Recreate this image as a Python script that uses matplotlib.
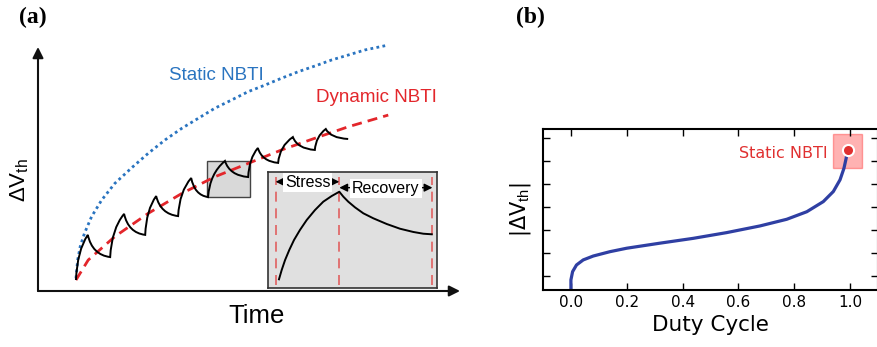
import matplotlib.pyplot as plt
from matplotlib.path import Path
from matplotlib.patches import PathPatch, Rectangle

plt.rcParams['font.family'] = 'DejaVu Sans'
plt.rcParams['mathtext.fontset'] = 'custom'
plt.rcParams['mathtext.rm'] = 'Liberation Sans'

# ---- (a) schematic, arbitrary units (0-100) ----
static_t = [9.0, 9.4, 10.0, 11.0, 12.7, 15.1, 18.2, 22.2, 26.1, 30.1, 34.1, 38.0,
            41.9, 45.9, 49.8, 53.8, 57.7, 61.7, 65.6, 69.6, 73.5, 77.5, 83.0]
static_v = [5.2, 12.7, 18.2, 23.6, 30.5, 37.3, 44.1, 50.5, 56.4, 61.9, 66.7, 70.8,
            74.9, 78.3, 81.7, 84.4, 87.2, 89.9, 92.2, 94.7, 96.7, 98.8, 100.8]

dyn_t = [9.0, 11.9, 18.2, 26.1, 34.1, 41.9, 49.8, 57.7, 65.6, 73.5, 83.0]
dyn_v = [4.5, 12.7, 22.3, 31.8, 40.0, 46.8, 52.3, 57.8, 62.6, 67.3, 72.1]

# peaks / troughs of stress-recovery cycles
saw_t = [9.0, 11.8, 17.1, 20.4, 25.4, 28.0, 33.2, 36.3, 40.3, 44.3, 49.8, 52.1, 56.9, 60.4, 65.6, 68.2, 73.5]
saw_v = [4.5, 23.0, 13.9, 31.6, 23.0, 38.9, 30.7, 46.3, 38.5, 53.3, 46.7, 58.6, 52.5, 63.1, 57.8, 66.4, 62.3]

# zoomed cycle (inset units 0-1)
cyc_t = [0.065, 0.081, 0.101, 0.126, 0.154, 0.189, 0.229, 0.278, 0.327, 0.377, 0.422,
         0.446, 0.475, 0.515, 0.564, 0.623, 0.702, 0.781, 0.860, 0.919, 0.969]
cyc_v = [0.075, 0.155, 0.241, 0.328, 0.414, 0.500, 0.586, 0.672, 0.744, 0.793, 0.830,
         0.787, 0.744, 0.695, 0.644, 0.601, 0.552, 0.511, 0.483, 0.468, 0.463]
phase_edges = [0.045, 0.422, 0.973]

# ---- (b) |dVth| vs duty cycle ----
duty = [0.000, 0.000, 0.006, 0.020, 0.044, 0.080, 0.140, 0.200, 0.319, 0.438,
        0.558, 0.677, 0.773, 0.845, 0.904, 0.940, 0.964, 0.978, 0.986, 0.990]
dvth = [0.39, 0.83, 1.19, 1.48, 1.70, 1.87, 2.06, 2.21, 2.43, 2.64,
        2.89, 3.18, 3.47, 3.80, 4.24, 4.68, 5.19, 5.69, 6.13, 6.49]
static_pt = (0.991, 6.49)

fig = plt.figure(figsize=(8.78, 3.47), dpi=100)

# ======== panel (a) ========
ax = fig.add_axes([38/878, 56/347, 422/878, 244/347])
ax.set_xlim(0, 100)
ax.set_ylim(0, 100)
ax.axis('off')

arr = dict(arrowstyle='-|>', color='#111111', lw=1.5, mutation_scale=16, shrinkA=0, shrinkB=0)
ax.annotate('', xy=(0, 1), xytext=(0, 0), xycoords='axes fraction', arrowprops=arr)
ax.annotate('', xy=(1, 0), xytext=(0, 0), xycoords='axes fraction', arrowprops=arr)

ax.add_patch(Rectangle((40.1, 38.4), 10.2, 15.0, facecolor='#d9d9d9',
                       edgecolor='#444444', lw=1, zorder=1))

ax.plot(static_t, static_v, color='#2a74c0', ls=(0, (1, 1.2)), lw=2, clip_on=False, zorder=3)
ax.plot(dyn_t, dyn_v, color='#e3262b', ls=(0, (3.6, 2.2)), lw=2, clip_on=False, zorder=4)

verts = [(saw_t[0], saw_v[0])]
codes = [Path.MOVETO]
for i in range(1, len(saw_t)):
    x0, y0 = saw_t[i-1], saw_v[i-1]
    x1, y1 = saw_t[i], saw_v[i]
    if y1 > y0:
        c = (x0 + 0.1*(x1-x0), y0 + 0.65*(y1-y0))
    else:
        c = (x0 + 0.2*(x1-x0), y1 + 0.1*(y0-y1))
    verts += [c, (x1, y1)]
    codes += [Path.CURVE3, Path.CURVE3]
ax.add_patch(PathPatch(Path(verts, codes), facecolor='none', edgecolor='k', lw=1.4, zorder=5))

ax.text(42.2, 88.5, 'Static NBTI', color='#2a74c0', fontsize=13.5,
        family='Liberation Sans', ha='center', va='center')
ax.text(80.1, 79.1, 'Dynamic NBTI', color='#e3262b', fontsize=13.5,
        family='Liberation Sans', ha='center', va='center')
ax.text(51.7, -10.2, 'Time', fontsize=18.5, family='Liberation Sans',
        ha='center', va='center', clip_on=False)
ax.text(-4.3, 45.5, r'ΔV$_{\mathrm{th}}$', fontsize=16, family='Liberation Sans',
        math_fontfamily='custom', rotation=90, ha='center', va='center', clip_on=False)

# inset: one stress / recovery cycle
axi = fig.add_axes([268/878, 59/347, 169/878, 116/347])
axi.set_facecolor('#e0e0e0')
axi.set_xlim(0, 1)
axi.set_ylim(0, 1)
axi.set_xticks([])
axi.set_yticks([])
for s in axi.spines.values():
    s.set_color('#333333')
    s.set_linewidth(1.2)
axi.vlines(phase_edges, 0.03, 0.96, colors='#e06060', linestyles=(0, (6, 4)), lw=1.2)
axi.plot(cyc_t, cyc_v, color='k', lw=1.4)
harr = dict(arrowstyle='<|-|>', color='k', lw=1, mutation_scale=12, shrinkA=0, shrinkB=0)
axi.annotate('', xy=(phase_edges[1], 0.916), xytext=(phase_edges[0], 0.916), arrowprops=harr)
axi.annotate('', xy=(phase_edges[2], 0.865), xytext=(phase_edges[1], 0.865), arrowprops=harr)
box = dict(facecolor='white', edgecolor='none', pad=1.5)
axi.text(0.234, 0.912, 'Stress', fontsize=11.5, family='Liberation Sans',
         ha='center', va='center', bbox=box)
axi.text(0.698, 0.861, 'Recovery', fontsize=11.5, family='Liberation Sans',
         ha='center', va='center', bbox=box)

fig.text(33/878, 1 - 17/347, '(a)', fontsize=17, family='Liberation Serif',
         weight='bold', ha='center', va='center')

# ======== panel (b) ========
bx = fig.add_axes([543/878, 57/347, 335/878, 160.7/347])
bx.plot(duty, dvth, color='#2f3fa3', lw=2.3, solid_capstyle='butt', solid_joinstyle='round')
bx.add_patch(Rectangle((0.939, 5.71), 0.104, 1.48, facecolor=(1, 0, 0, 0.3),
                       edgecolor=(1, 0.3, 0.3, 0.5), lw=1))
bx.plot(*static_pt, 'o', color='#e03030', ms=8, mec='white', mew=1.5)
bx.text(0.921, 6.32, 'Static NBTI', color='#e03030', fontsize=11.5, ha='right', va='center')
bx.set_xlim(-0.1, 1.1)
bx.set_ylim(0.39, 7.39)
bx.set_xticks([0.0, 0.2, 0.4, 0.6, 0.8, 1.0])
bx.set_yticks(range(1, 8))
bx.set_yticklabels([])
bx.tick_params(direction='in', length=5, width=1, top=True, right=True,
               labelsize=11, pad=3.5)
for s in bx.spines.values():
    s.set_linewidth(1.5)
bx.set_xlabel('Duty Cycle', fontsize=15.5, labelpad=4)
bx.set_ylabel(r'|ΔV$_{\mathrm{th}}$|', fontsize=15, labelpad=4)

fig.text(530/878, 1 - 17/347, '(b)', fontsize=17, family='Liberation Serif',
         weight='bold', ha='center', va='center')

fig.savefig('out.png', dpi=100)
